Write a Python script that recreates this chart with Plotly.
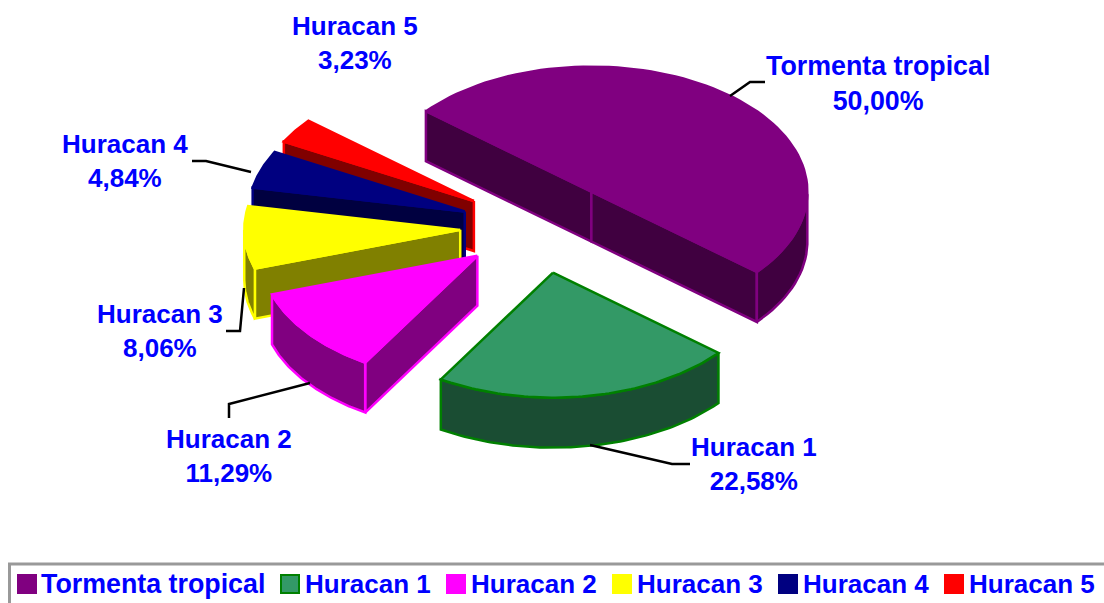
import numpy as np
import plotly.graph_objects as go

categories = ["Tormenta tropical", "Huracan 1", "Huracan 2", "Huracan 3", "Huracan 4", "Huracan 5"]
values = [50.00, 22.58, 11.29, 8.06, 4.84, 3.23]
percent_labels = ["50,00%", "22,58%", "11,29%", "8,06%", "4,84%", "3,23%"]
top_colors = ["#800080", "#339966", "#FF00FF", "#FFFF00", "#000080", "#FF0000"]
wall_colors = ["#400040", "#1A4D33", "#800080", "#808000", "#000040", "#800000"]
line_colors = ["#800080", "#008000", "#FF00FF", "#FFFF00", "#000080", "#FF0000"]
label_xy = [(878, 83), (754, 464), (229, 456), (160, 331), (125, 161), (355, 43)]
name_sizes = [26.8, 26, 26, 26, 26, 26]
leaders = [
    ([730, 750, 765], [96, 82, 82]),
    ([590, 672, 690], [445, 464, 464]),
    ([310, 229, 229], [383, 404, 418]),
    ([244, 240, 226], [288, 331, 331]),
    ([251, 206, 192], [172, 161, 161]),
]
legend_marker_x = [27, 290, 456, 622, 788, 954]
legend_text_x = [42, 306, 472, 638, 804, 970]

CX, CY, RX, RY, DEPTH, EXPLODE, START = 540, 227, 216, 125, 50, 0.37, 140.0
FONT = "Liberation Sans, Arial, sans-serif"
BLUE = "#0000FF"

fig = go.Figure()


def add_poly(xs, ys, fill, line):
    fig.add_trace(go.Scatter(x=xs, y=ys, mode="lines", fill="toself", fillcolor=fill,
                             line=dict(color=line, width=2.5), hoverinfo="skip", showlegend=False))


angles = START - np.cumsum([0] + values) * 3.6
slices = []
for i in range(len(values)):
    a0, a1 = angles[i], angles[i + 1]
    mid = np.radians((a0 + a1) / 2)
    cx = CX + EXPLODE * RX * np.cos(mid)
    cy = CY - EXPLODE * RY * np.sin(mid)
    slices.append((i, a0, a1, cx, cy))

for i, a0, a1, cx, cy in [slices[k] for k in (5, 4, 3, 2, 0, 1)]:
    th = np.radians(np.linspace(a0, a1, 80))
    ax = cx + RX * np.cos(th)
    ay = cy - RY * np.sin(th)
    wall, col, top = wall_colors[i], line_colors[i], top_colors[i]
    for a, visible in ((a0, np.cos(np.radians(a0)) < 0), (a1, np.cos(np.radians(a1)) > 0)):
        if visible:
            ex = cx + RX * np.cos(np.radians(a))
            ey = cy - RY * np.sin(np.radians(a))
            add_poly([cx, ex, ex, cx, cx], [cy, ey, ey + DEPTH, cy + DEPTH, cy], wall, col)
    front = np.sin(th) < 0
    if front.any():
        fx, fy = ax[front], ay[front]
        add_poly(list(fx) + list(fx[::-1]) + [fx[0]],
                 list(fy) + list(fy[::-1] + DEPTH) + [fy[0]], wall, col)
    add_poly([cx] + list(ax) + [cx], [cy] + list(ay) + [cy], top, col)

for xs, ys in leaders:
    fig.add_trace(go.Scatter(x=xs, y=ys, mode="lines", line=dict(color="black", width=2.5),
                             hoverinfo="skip", showlegend=False))

for name, pct, (x, y), size in zip(categories, percent_labels, label_xy, name_sizes):
    fig.add_annotation(x=x, y=y, text=f"<b>{name}</b><br><b>{pct}</b>", showarrow=False,
                       font=dict(family=FONT, size=size, color=BLUE), align="center",
                       xanchor="center", yanchor="middle")

# legend
fig.add_shape(type="rect", x0=9.5, x1=1112, y0=564, y1=612, line=dict(color="#999999", width=3),
              fillcolor="white", layer="below")
for i, name in enumerate(categories):
    fig.add_trace(go.Scatter(x=[legend_marker_x[i]], y=[584], mode="markers", hoverinfo="skip",
                             showlegend=False,
                             marker=dict(symbol="square", size=18, color=top_colors[i],
                                         line=dict(color=line_colors[i], width=2))))
    fig.add_annotation(x=legend_text_x[i], y=584, text=f"<b>{name}</b>", showarrow=False,
                       font=dict(family=FONT, size=name_sizes[i], color=BLUE),
                       xanchor="left", yanchor="middle", xshift=-3)

fig.update_layout(
    width=1104, height=603, margin=dict(l=0, r=0, t=0, b=0),
    paper_bgcolor="white", plot_bgcolor="white",
    xaxis=dict(range=[0, 1104], visible=False, fixedrange=True),
    yaxis=dict(range=[603, 0], visible=False, fixedrange=True),
    showlegend=False,
)
fig.write_html("out.html", config={"displayModeBar": False},
               post_script="document.body.style.margin='0';document.body.style.overflow='hidden';")
